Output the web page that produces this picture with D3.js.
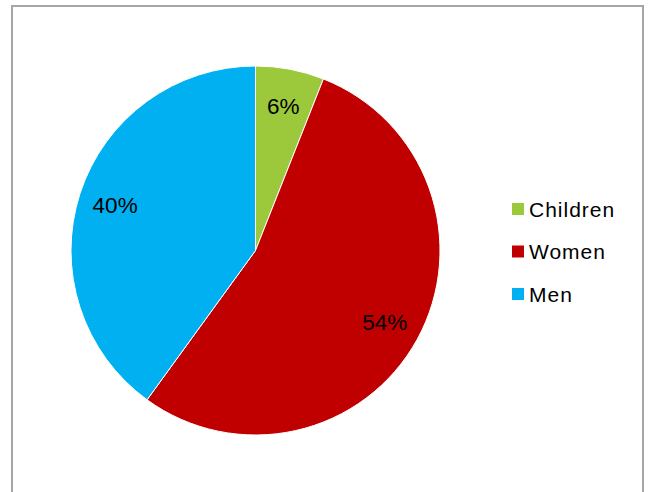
<!DOCTYPE html>
<html>
<head>
<meta charset="utf-8">
<script src="https://cdn.jsdelivr.net/npm/d3@7"></script>
<style>
    body { margin: 0; background: #fff; }
    svg { display: block; }
</style>
</head>
<body>
<svg width="651" height="492"></svg>
<script>
const categories = ['Children', 'Women', 'Men'];
const shares = [6, 54, 40];
const colors = ['#9BC93B', '#C00000', '#00B0F0'];

const svg = d3.select('svg');
const width = 651;
const height = 492;

// chart frame (bottom edge runs off the picture)
svg.append('rect')
    .attr('x', 12)
    .attr('y', 6)
    .attr('width', 631)
    .attr('height', 500)
    .attr('fill', 'none')
    .attr('stroke', '#a6a6a6')
    .attr('stroke-width', 2);

const cx = 255.5;
const cy = 250.5;
const radius = 184.5;

const data = categories.map((c, i) => ({ name: c, value: shares[i], color: colors[i] }));

const pie = d3.pie()
    .sort(null)
    .value(d => d.value);

const arc = d3.arc()
    .innerRadius(0)
    .outerRadius(radius);

const labelArc = d3.arc()
    .innerRadius(radius * 0.8)
    .outerRadius(radius * 0.8);

const pieGroup = svg.append('g')
    .attr('transform', `translate(${cx},${cy})`);

const arcs = pie(data);

pieGroup.selectAll('path.slice')
    .data(arcs)
    .enter().append('path')
    .attr('class', 'slice')
    .attr('d', arc)
    .attr('fill', d => d.data.color)
    .attr('stroke', '#fff')
    .attr('stroke-width', 1);

pieGroup.selectAll('text.pct')
    .data(arcs)
    .enter().append('text')
    .attr('class', 'pct')
    .attr('transform', d => `translate(${labelArc.centroid(d)})`)
    .attr('text-anchor', 'middle')
    .attr('dy', '0.36em')
    .style('font-family', '"Liberation Sans", Arial, sans-serif')
    .style('font-size', '22.5px')
    .attr('fill', '#000')
    .text(d => d.data.value + '%');

const legend = svg.append('g')
    .attr('transform', 'translate(512,209)');

const rows = legend.selectAll('g.row')
    .data(data)
    .enter().append('g')
    .attr('class', 'row')
    .attr('transform', (d, i) => `translate(0,${i * 42.5})`);

rows.append('rect')
    .attr('x', 0)
    .attr('y', -6)
    .attr('width', 12)
    .attr('height', 12)
    .attr('fill', d => d.color);

rows.append('text')
    .attr('x', 17)
    .attr('y', 0)
    .attr('dy', '0.36em')
    .style('font-family', '"Liberation Sans", Arial, sans-serif')
    .style('font-size', '21px')
    .style('letter-spacing', '1px')
    .attr('fill', '#000')
    .text(d => d.name);
</script>
</body>
</html>
